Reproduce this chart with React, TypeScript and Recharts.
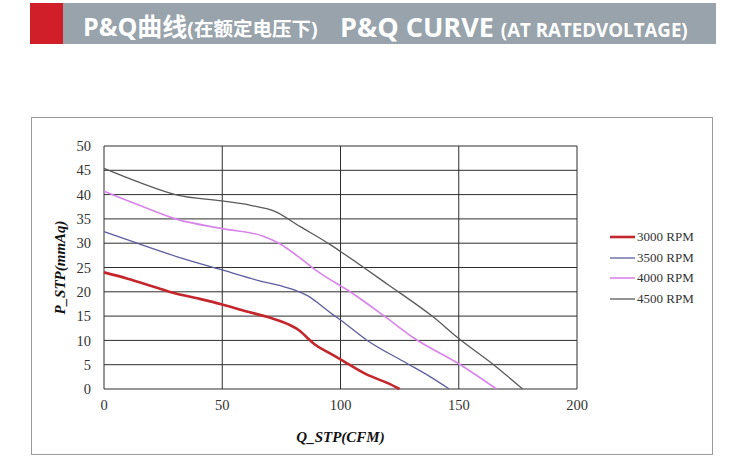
// P&Q curve chart (fan static pressure vs airflow) — Recharts line chart

import { LineChart, Line, XAxis, YAxis, CartesianGrid, Legend, Label } from 'recharts';

// Q_STP (CFM) / P_STP (mmAq) readings per fan speed
const q3000 = [0, 10, 20, 30, 40, 50, 60, 70, 78, 83, 86, 89, 95, 100, 111, 120, 125];
const p3000 = [24.0, 22.7, 21.2, 19.7, 18.6, 17.4, 16.0, 14.7, 13.3, 11.9, 10.5, 9.2, 7.5, 6.1, 3.0, 1.2, 0];

const q3500 = [0, 14, 31, 50, 67, 75, 82, 86, 91, 96, 100, 111, 128, 138, 146];
const p3500 = [32.4, 30.0, 27.2, 24.5, 22.1, 21.2, 20.1, 19.2, 17.5, 15.6, 14.2, 10.1, 5.3, 2.5, 0];

const q4000 = [0, 15, 31, 50, 67, 74, 82, 90, 105, 118, 131, 150, 166];
const p4000 = [40.7, 37.8, 34.9, 33.0, 31.5, 30.0, 27.3, 24.3, 19.7, 15.2, 10.5, 5.2, 0];

const q4500 = [0, 15, 31, 50, 62, 72, 83, 96, 100, 120, 139, 150, 165, 177];
const p4500 = [45.4, 42.5, 39.9, 38.7, 37.8, 36.6, 33.4, 29.6, 28.3, 21.5, 14.9, 10.4, 4.9, 0];

const xTicks = [0, 50, 100, 150, 200];
const yTicks = [0, 5, 10, 15, 20, 25, 30, 35, 40, 45, 50];

const toPoints = (qs: number[], ps: number[]) => qs.map((q, i) => ({ q, p: ps[i] }));

const series = [
  { name: '3000 RPM', data: toPoints(q3000, p3000), color: '#c3272c', width: 2.6 },
  { name: '3500 RPM', data: toPoints(q3500, p3500), color: '#5d5d9e', width: 1.3 },
  { name: '4000 RPM', data: toPoints(q4000, p4000), color: '#d884ea', width: 1.6 },
  { name: '4500 RPM', data: toPoints(q4500, p4500), color: '#5a5a5a', width: 1.3 },
];

const LEGEND_W = 120;
const tickStyle = { fontFamily: '"Liberation Serif", serif', fontSize: 14.5, fill: '#333' };
const axisLabelStyle = {
  fontFamily: '"Liberation Serif", serif',
  fontSize: 15,
  fontWeight: 'bold',
  fontStyle: 'italic',
  fill: '#111',
};

function RpmLegend() {
  return (
    <div style={{ width: LEGEND_W, paddingLeft: 33, boxSizing: 'border-box' }}>
      {series.map((s) => (
        <div key={s.name} style={{ height: 20.7, display: 'flex', alignItems: 'center' }}>
          <svg width={25} height={4} style={{ flexShrink: 0 }}>
            <line x1={0} y1={2} x2={25} y2={2} stroke={s.color} strokeWidth={s.width} />
          </svg>
          <span
            style={{
              marginLeft: 2,
              fontFamily: '"Liberation Serif", serif',
              fontSize: 13,
              color: '#333',
              whiteSpace: 'nowrap',
            }}
          >
            {s.name}
          </span>
        </div>
      ))}
    </div>
  );
}

export default function App() {
  return (
    <div style={{ position: 'absolute', left: 0, top: 0, width: 736, height: 463, background: '#fff' }}>
      {/* title band */}
      <div style={{ position: 'absolute', left: 30, top: 3, width: 686, height: 41, background: '#98a3ac' }} />
      <div style={{ position: 'absolute', left: 30, top: 3, width: 33, height: 41, background: '#d11f2a' }} />
      <div
        style={{
          position: 'absolute',
          left: 83,
          top: 6,
          height: 41,
          lineHeight: '41px',
          whiteSpace: 'nowrap',
          color: '#fff',
          fontWeight: 'bold',
          fontFamily: '"Open Sans", "Noto Sans CJK SC", sans-serif',
        }}
      >
        <span style={{ fontSize: 25 }}>P&amp;Q曲线</span>
        <span style={{ fontSize: 19.5 }}>(在额定电压下)</span>
      </div>
      <div
        style={{
          position: 'absolute',
          left: 340,
          top: 6,
          height: 41,
          lineHeight: '41px',
          whiteSpace: 'nowrap',
          color: '#fff',
          fontWeight: 'bold',
          fontFamily: '"Open Sans", sans-serif',
        }}
      >
        <span style={{ fontSize: 27 }}>P&amp;Q CURVE </span>
        <span style={{ fontSize: 18.7 }}>(AT RATEDVOLTAGE)</span>
      </div>

      {/* chart frame */}
      <div
        style={{
          position: 'absolute',
          left: 31,
          top: 117,
          width: 682,
          height: 338,
          border: '1.5px solid #9c9c9c',
          boxSizing: 'border-box',
        }}
      />

      <div style={{ position: 'absolute', left: 0, top: 0 }}>
        <LineChart width={736} height={463} margin={{ top: 146, right: 159 - LEGEND_W, bottom: 18, left: 44 }}>
          <CartesianGrid stroke="#2e2e2e" strokeWidth={1} />
          <XAxis
            dataKey="q"
            type="number"
            domain={[0, 200]}
            ticks={xTicks}
            axisLine={false}
            tickLine={false}
            tickSize={0}
            tickMargin={11}
            height={56}
            tick={tickStyle}
            allowDuplicatedCategory={false}
          >
            <Label value="Q_STP(CFM)" position="insideBottom" offset={3} style={axisLabelStyle} />
          </XAxis>
          <YAxis
            type="number"
            domain={[0, 50]}
            ticks={yTicks}
            axisLine={false}
            tickLine={false}
            tickSize={0}
            tickMargin={13}
            width={60}
            tick={tickStyle}
          >
            <Label
              value="P_STP(mmAq)"
              angle={-90}
              position="insideLeft"
              offset={16}
              style={{ ...axisLabelStyle, textAnchor: 'middle' }}
            />
          </YAxis>
          <Legend
            layout="vertical"
            align="right"
            verticalAlign="middle"
            content={() => <RpmLegend />}
            wrapperStyle={{ top: 226.6 }}
          />
          {series.map((s) => (
            <Line
              key={s.name}
              name={s.name}
              data={s.data}
              dataKey="p"
              type="monotone"
              stroke={s.color}
              strokeWidth={s.width}
              dot={false}
              activeDot={false}
              isAnimationActive={false}
            />
          ))}
        </LineChart>
      </div>
    </div>
  );
}
